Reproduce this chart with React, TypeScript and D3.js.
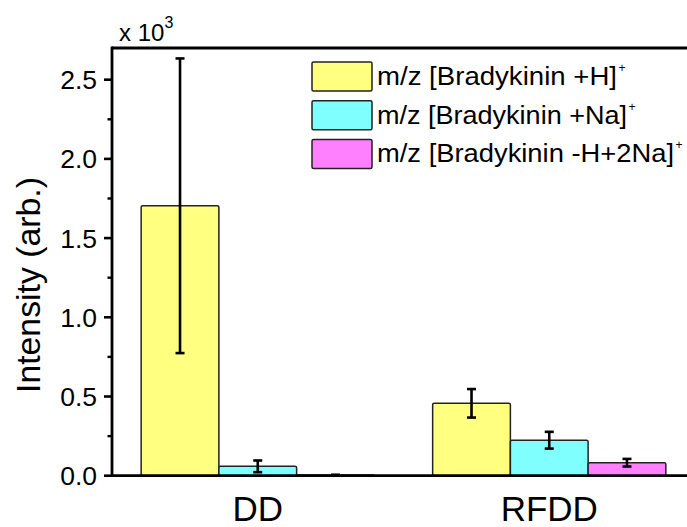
import React from "react";
import * as d3 from "d3";

const categories = ["DD", "RFDD"];
const seriesNames = ["m/z [Bradykinin +H]", "m/z [Bradykinin +Na]", "m/z [Bradykinin -H+2Na]"];
const seriesColors = ["#FFFF80", "#80FFFF", "#FF80FF"];
// values in units of 10^3
const valuesH = [1.704, 0.457];
const valuesNa = [0.059, 0.224];
const values2Na = [0.004, 0.082];
const errH = [0.93, 0.09];
const errNa = [0.037, 0.053];
const err2Na = [0.002, 0.024];
const yTicks = [0, 0.5, 1.0, 1.5, 2.0, 2.5];
const yMinorTicks = [0.25, 0.75, 1.25, 1.75, 2.25];
const legendTextWidths = [240, 250, 297];

const W = 687;
const H = 527;
const left = 112;
const right = 695;
const top = 48;
const bottom = 475.7;

export default function App() {
  const x = d3.scaleLinear().domain([0.5, 2.5]).range([left, right]);
  const y = d3.scaleLinear().domain([0, 2.7]).range([bottom, top]);
  const series = [
    { vals: valuesH, errs: errH },
    { vals: valuesNa, errs: errNa },
    { vals: values2Na, errs: err2Na },
  ];
  const groupW = 0.8;
  const barW = groupW / series.length;
  const font = "Liberation Sans, Arial, Helvetica, sans-serif";

  return (
    <svg width={W} height={H} style={{ position: "absolute", left: 0, top: 0 }} fontFamily={font}>
      <rect x={0} y={0} width={W} height={H} fill="#fff" />
      {/* bars */}
      {categories.map((c, ci) =>
        series.map((s, si) => {
          const x0 = x(ci + 1 - groupW / 2 + si * barW);
          const x1 = x(ci + 1 - groupW / 2 + (si + 1) * barW);
          const yv = y(s.vals[ci]);
          return (
            <rect
              key={`b${ci}-${si}`}
              x={x0}
              y={yv}
              width={x1 - x0}
              height={bottom - yv}
              fill={seriesColors[si]}
              stroke="#222"
              strokeWidth={1.5}
              rx={1.5}
            />
          );
        })
      )}
      {/* error bars */}
      {categories.map((c, ci) =>
        series.map((s, si) => {
          const cx = x(ci + 1 - groupW / 2 + (si + 0.5) * barW);
          const y0 = y(s.vals[ci] + s.errs[ci]);
          const y1 = y(s.vals[ci] - s.errs[ci]);
          return (
            <g key={`e${ci}-${si}`} stroke="#000" strokeWidth={2.6}>
              <line x1={cx} x2={cx} y1={y0} y2={y1} />
              <line x1={cx - 4.5} x2={cx + 4.5} y1={y0} y2={y0} />
              <line x1={cx - 4.5} x2={cx + 4.5} y1={y1} y2={y1} />
            </g>
          );
        })
      )}
      {/* frame */}
      <line x1={left} x2={right} y1={top} y2={top} stroke="#000" strokeWidth={2.8} />
      <line x1={left} x2={right} y1={bottom} y2={bottom} stroke="#000" strokeWidth={2.8} />
      <line x1={left} x2={left} y1={top - 1.4} y2={bottom + 1.4} stroke="#000" strokeWidth={2.8} />
      {/* y ticks */}
      {yTicks.map((t) => (
        <g key={`t${t}`}>
          <line x1={left - 8} x2={left} y1={y(t)} y2={y(t)} stroke="#000" strokeWidth={2.6} />
          <text x={97} y={y(t) + 9.5} textAnchor="end" fontSize={26.5} fill="#000">
            {t.toFixed(1)}
          </text>
        </g>
      ))}
      {yMinorTicks.map((t) => (
        <line key={`m${t}`} x1={left - 4.5} x2={left} y1={y(t)} y2={y(t)} stroke="#000" strokeWidth={2.4} />
      ))}
      {/* multiplier */}
      <text x={119} y={41} fontSize={24} fill="#000">
        x 10
        <tspan dy={-13} fontSize={16}>3</tspan>
      </text>
      {/* y title */}
      <text
        transform={`translate(40, 285) rotate(-90)`}
        textAnchor="middle"
        fontSize={34}
        fill="#000"
        textLength={216}
        lengthAdjust="spacingAndGlyphs"
      >
        Intensity (arb.)
      </text>
      {/* x labels */}
      {categories.map((c, ci) => (
        <text key={c} x={x(ci + 1)} y={521} textAnchor="middle" fontSize={35} fill="#000">
          {c}
        </text>
      ))}
      {/* legend */}
      {seriesNames.map((n, i) => {
        const ty = 62 + i * 38.7;
        return (
          <g key={n}>
            <rect x={312} y={ty} width={60} height={29} fill={seriesColors[i]} stroke="#222" strokeWidth={1.5} rx={1.5} />
            <text
              x={377}
              y={ty + 23}
              fontSize={25}
              fill="#000"
              textLength={legendTextWidths[i]}
              lengthAdjust="spacingAndGlyphs"
            >
              {n}
            </text>
            <text x={377 + legendTextWidths[i] + 1.5} y={ty + 10} fontSize={12} fill="#000">
              +
            </text>
          </g>
        );
      })}
    </svg>
  );
}
